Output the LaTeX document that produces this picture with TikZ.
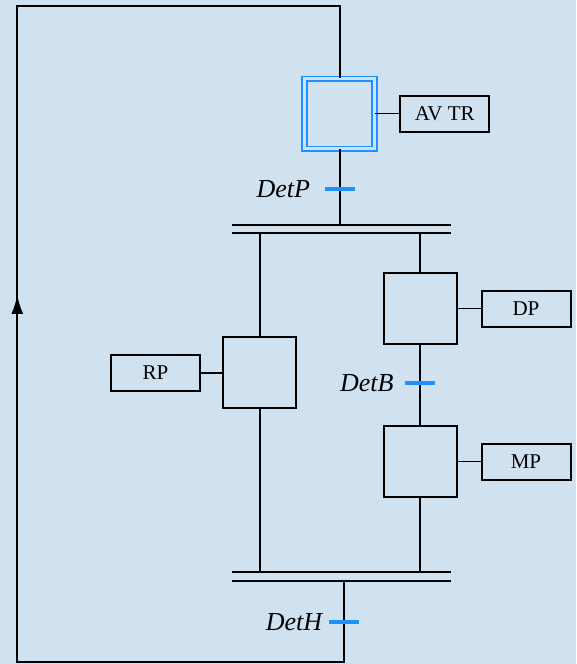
\documentclass[tikz,border=0pt]{standalone}
\usepackage{fontspec}
\setmainfont{Liberation Serif}
\usetikzlibrary{arrows.meta,positioning}
\definecolor{bgblue}{RGB}{208,226,240}
\definecolor{stepblue}{RGB}{30,144,255}
\tikzset{
  stepbox/.style={draw, rectangle, minimum width=73pt, minimum height=71pt, inner sep=0pt, line width=2pt},
  initbox/.style={draw=stepblue, rectangle, minimum size=70pt, inner sep=0pt, line width=1.6pt, double=bgblue, double distance=3pt},
  actbox/.style={draw, rectangle, minimum width=89pt, minimum height=36pt, inner sep=0pt, line width=2pt, font=\fontsize{21}{25}\selectfont},
  trans/.style={fill=stepblue, rectangle, minimum width=30pt, minimum height=4pt, inner sep=0pt},
  cond/.style={inner sep=0pt, font=\fontsize{26}{30}\selectfont\itshape},
  parbar/.style={rectangle, minimum width=218pt, minimum height=8pt, inner sep=0pt},
  lnk/.style={line width=2pt},
  alnk/.style={line width=1.2pt},
}
\begin{document}
\begin{tikzpicture}[x=1pt, y=1pt]

\fill[bgblue] (0,0) rectangle (576,664);
\useasboundingbox (0,0) rectangle (576,664);

% steps
\node[initbox] (s0) at (339.5,550.3) {};
\node[stepbox] (s1) at (259.5,291) {};
\node[stepbox] (s2) at (420,355.3) {};
\node[stepbox] (s3) at (420,202.3) {};

% actions
\node[actbox, right=24pt of s0] (avtr) {AV TR};
\node[actbox, left=21pt of s1] (rp) {RP};
\node[actbox, right=23pt of s2] (dp) {DP};
\node[actbox, right=23pt of s3] (mp) {MP};

% simultaneous branches
\node[parbar] (div) at (341.3,435) {};
\node[parbar] (conv) at (341.5,87.5) {};
\draw[lnk] (div.north west) -- (div.north east) (div.south west) -- (div.south east);
\draw[lnk] (conv.north west) -- (conv.north east) (conv.south west) -- (conv.south east);

% return loop
\coordinate (lpA) at (343.5,2);
\coordinate (lpB) at (17.3,2);
\coordinate (lpC) at (17.3,658);
\coordinate (lpD) at (339.5,658);
\coordinate (tip) at (17.3,369);

\draw[lnk] (s0.south) -- (s0.south |- div.north);
\draw[lnk] (s1.north) -- (s1.north |- div.south);
\draw[lnk] (s2.north) -- (s2.north |- div.south);
\draw[lnk] (s2.south) -- (s3.north);
\draw[lnk] (s1.south) -- (s1.south |- conv.north);
\draw[lnk] (s3.south) -- (s3.south |- conv.north);
\draw[lnk] (conv.south -| lpA) -- (lpA) -- (lpB) -- (lpC) -- (lpD) -- (s0.north);
\draw[lnk, -{Latex[length=19pt, width=12pt]}] (lpB) -- (tip);

\draw[alnk] (s0) -- (avtr);
\draw[alnk] (s1) -- (rp);
\draw[alnk] (s2) -- (dp);
\draw[alnk] (s3) -- (mp);

% transitions
\node[trans] (tp) at (339.5,475) {};
\node[trans] (tb) at (420,281.3) {};
\node[trans] (th) at (343.5,42.3) {};
\node[cond, left=14pt of tp] (detp) {DetP};
\node[cond, left=11pt of tb] (detb) {DetB};
\node[cond, left=6pt of th] (deth) {DetH};

\end{tikzpicture}
\end{document}
